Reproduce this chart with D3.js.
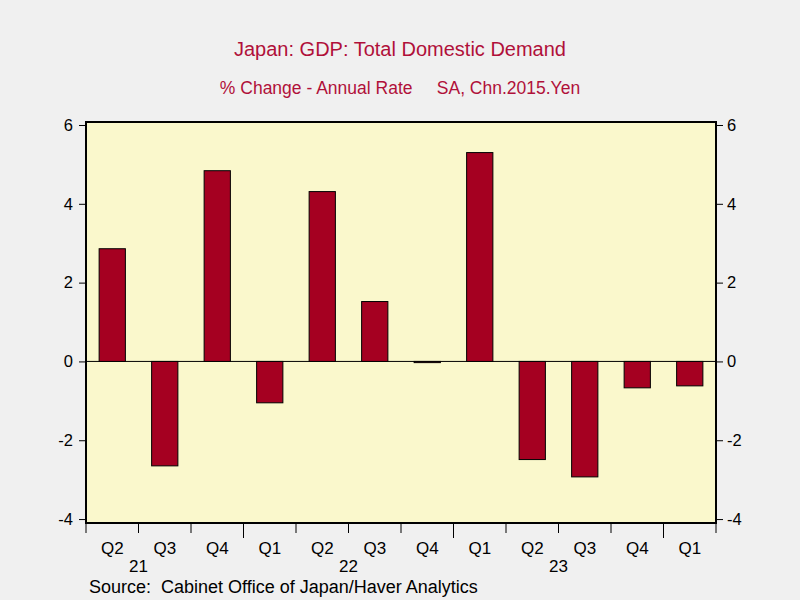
<!DOCTYPE html>
<html>
<head>
<meta charset="utf-8">
<script src="https://cdn.jsdelivr.net/npm/d3@7"></script>
<style>
  html, body { margin: 0; padding: 0; background: #F0F0F0; }
  svg { display: block; }
  text { font-family: "Liberation Sans", Arial, sans-serif; }
</style>
</head>
<body>
<svg id="chart" width="800" height="600"></svg>
<script>
const quarters = ["Q2","Q3","Q4","Q1","Q2","Q3","Q4","Q1","Q2","Q3","Q4","Q1"];
const values = [2.86, -2.65, 4.84, -1.05, 4.31, 1.52, -0.03, 5.30, -2.49, -2.93, -0.67, -0.62];
const yearLabels = ["21", "22", "23"];
const yearLabelIndex = [1, 5, 9];      // label placed at start of these categories
const yearBoundaryIndex = [3, 7, 11];  // longer ticks at year starts
const yTicks = [-4, -2, 0, 2, 4, 6];
const yDomain = [-4.1, 6.076];
const title = "Japan: GDP: Total Domestic Demand";
const subtitle = "% Change - Annual Rate     SA, Chn.2015.Yen";
const source = "Source:  Cabinet Office of Japan/Haver Analytics";

const svg = d3.select("#chart");
const L = 86, R = 716, T = 122, B = 523;
const titleColor = "#B0103A";
const barColor = "#A50021";
const FONT = '"Liberation Sans", Arial, sans-serif';

const x = d3.scaleBand().domain(d3.range(quarters.length)).range([L, R]).paddingInner(0.5).paddingOuter(0.25);
const y = d3.scaleLinear().domain(yDomain).range([B, T]);
const step = x.step();

svg.append("rect").attr("x", 0).attr("y", 0).attr("width", 800).attr("height", 600).attr("fill", "#F0F0F0");
svg.append("rect").attr("x", L).attr("y", T).attr("width", R - L).attr("height", B - T).attr("fill", "#FAF8CC");

// zero line
svg.append("line").attr("x1", L).attr("x2", R).attr("y1", y(0)).attr("y2", y(0))
  .attr("stroke", "#000").attr("stroke-width", 1);

// bars
svg.append("g").selectAll("rect").data(values).join("rect")
  .attr("x", (d, i) => x(i))
  .attr("width", x.bandwidth())
  .attr("y", d => y(Math.max(0, d)))
  .attr("height", d => Math.max(1, Math.abs(y(d) - y(0))))
  .attr("fill", barColor)
  .attr("stroke", "#000")
  .attr("stroke-width", 1);

// frame
svg.append("rect").attr("x", L).attr("y", T).attr("width", R - L).attr("height", B - T)
  .attr("fill", "none").attr("stroke", "#000").attr("stroke-width", 2);

// y axes
const yLeft = d3.axisLeft(y).tickValues(yTicks).tickSize(6).tickPadding(6).tickFormat(d3.format("d"));
const yRight = d3.axisRight(y).tickValues(yTicks).tickSize(6).tickPadding(4).tickFormat(d3.format("d"));
const gL = svg.append("g").attr("transform", `translate(${L - 1},0)`).call(yLeft);
const gR = svg.append("g").attr("transform", `translate(${R + 1},0)`).call(yRight);
[gL, gR].forEach(g => {
  g.attr("font-size", 16.5).attr("font-family", FONT);
  g.select(".domain").remove();
  g.selectAll("text").attr("fill", "#000").text(d => d < 0 ? "-" + Math.abs(d) : d);
  g.selectAll("line").attr("stroke", "#000");
});

// x ticks at category boundaries
const boundaries = d3.range(quarters.length + 1);
svg.append("g").selectAll("line").data(boundaries).join("line")
  .attr("x1", i => L + i * step).attr("x2", i => L + i * step)
  .attr("y1", B).attr("y2", i => yearBoundaryIndex.includes(i) ? B + 15 : B + 10)
  .attr("stroke", "#000").attr("stroke-width", 1);

// quarter labels
svg.append("g").selectAll("text").data(quarters).join("text")
  .attr("x", (d, i) => x(i) + x.bandwidth() / 2)
  .attr("y", 554)
  .attr("text-anchor", "middle")
  .attr("font-size", 17)
  .attr("fill", "#000")
  .text(d => d);

// year labels
svg.append("g").selectAll("text").data(yearLabels).join("text")
  .attr("x", (d, i) => L + yearLabelIndex[i] * step)
  .attr("y", 572)
  .attr("text-anchor", "middle")
  .attr("font-size", 17)
  .attr("fill", "#000")
  .text(d => d);

// titles
svg.append("text").attr("x", 400).attr("y", 56).attr("text-anchor", "middle")
  .attr("font-size", 20).attr("fill", titleColor).text(title);
svg.append("text").attr("x", 400).attr("y", 94).attr("text-anchor", "middle")
  .attr("font-size", 17.5).attr("fill", titleColor).style("white-space", "pre").attr("xml:space", "preserve").text(subtitle);

svg.append("text").attr("x", 89).attr("y", 593).attr("font-size", 18).attr("fill", "#000")
  .style("white-space", "pre").attr("xml:space", "preserve").text(source);
</script>
</body>
</html>
